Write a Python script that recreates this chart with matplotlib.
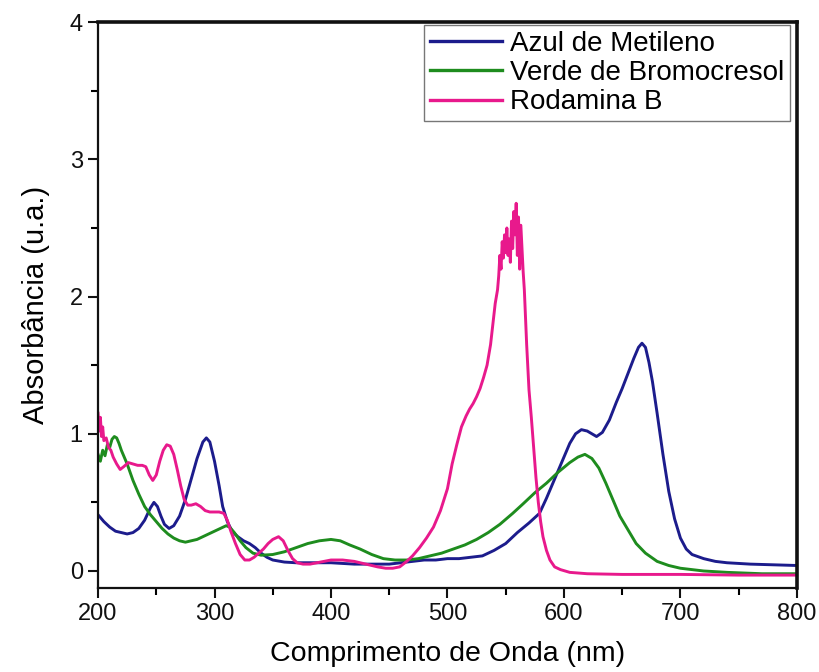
import matplotlib
matplotlib.use("Agg")
import matplotlib.pyplot as plt
from matplotlib.ticker import MultipleLocator

plt.rcParams['font.family'] = ['Liberation Sans', 'DejaVu Sans']

# Azul de Metileno
mb_x = [200, 205, 210, 215, 220, 225, 230, 235, 240, 245, 248, 251, 254, 257, 261, 265, 270, 275,
        280, 285, 290, 293, 296, 300, 304, 307, 311, 315, 320, 325, 330, 335, 340, 345, 350, 360,
        370, 380, 390, 400, 410, 420, 430, 440, 450, 460, 470, 480, 490, 500, 510, 520, 530, 540,
        550, 555, 560, 570, 579, 585, 590, 595, 600, 605, 610, 615, 620, 624, 628, 633, 639, 645,
        650, 655, 660, 664, 667, 670, 673, 676, 680, 685, 690, 695, 700, 705, 710, 720, 730, 740,
        760, 780, 800]
mb_y = [0.41, 0.36, 0.32, 0.29, 0.28, 0.27, 0.28, 0.31, 0.37, 0.46, 0.50, 0.47, 0.40, 0.34, 0.31,
        0.33, 0.40, 0.52, 0.67, 0.82, 0.94, 0.97, 0.94, 0.80, 0.62, 0.47, 0.36, 0.29, 0.25, 0.22,
        0.20, 0.17, 0.13, 0.10, 0.08, 0.065, 0.06, 0.06, 0.06, 0.06, 0.055, 0.05, 0.05, 0.05, 0.05,
        0.06, 0.07, 0.08, 0.08, 0.09, 0.09, 0.10, 0.11, 0.15, 0.20, 0.24, 0.28, 0.35, 0.42, 0.53,
        0.63, 0.73, 0.83, 0.93, 1.00, 1.03, 1.02, 1.00, 0.98, 1.01, 1.10, 1.23, 1.33, 1.44, 1.55,
        1.63, 1.66, 1.63, 1.52, 1.38, 1.15, 0.85, 0.58, 0.38, 0.24, 0.16, 0.12, 0.09, 0.07, 0.06,
        0.05, 0.045, 0.04]

# Verde de Bromocresol
vb_x = [200, 202, 204, 206, 208, 210, 212, 214, 216, 218, 220, 225, 230, 235, 240, 245, 250, 255,
        260, 265, 270, 275, 280, 285, 290, 295, 300, 305, 310, 313, 317, 322, 327, 333, 340, 350,
        360, 370, 380, 390, 400, 408, 416, 425, 435, 445, 455, 465, 475, 485, 495, 505, 515, 525,
        535, 545, 556, 565, 575, 585, 595, 605, 612, 618, 624, 630, 636, 642, 648, 655, 662, 670,
        680, 690, 700, 720, 740, 770, 800]
vb_y = [0.85, 0.80, 0.88, 0.84, 0.92, 0.90, 0.96, 0.98, 0.97, 0.93, 0.88, 0.78, 0.66, 0.56, 0.47,
        0.41, 0.36, 0.31, 0.27, 0.24, 0.22, 0.21, 0.22, 0.23, 0.25, 0.27, 0.29, 0.31, 0.33, 0.32,
        0.28, 0.22, 0.17, 0.13, 0.115, 0.12, 0.14, 0.17, 0.20, 0.22, 0.23, 0.22, 0.19, 0.16, 0.12,
        0.09, 0.08, 0.08, 0.09, 0.11, 0.13, 0.16, 0.19, 0.23, 0.28, 0.34, 0.42, 0.49, 0.57, 0.64,
        0.72, 0.79, 0.83, 0.85, 0.82, 0.75, 0.64, 0.52, 0.40, 0.30, 0.20, 0.13, 0.07, 0.04, 0.02,
        0.00, -0.01, -0.02, -0.02]

# Rodamina B
rb_x = [200, 201, 202, 203, 204, 205, 207, 209, 211, 213, 216, 219, 222, 226, 230, 234, 238, 241,
        244, 247, 250, 253, 256, 259, 262, 265, 268, 271, 274, 277, 280, 284, 288, 292, 296, 300,
        304, 308, 311, 314, 318, 322, 326, 330, 334, 338, 342, 346, 350, 355, 359, 363, 367, 371,
        376, 382, 388, 394, 400, 410, 420, 430, 440, 447, 453, 459, 465, 470, 476, 482, 488, 494,
        500, 504, 508, 512, 516, 519, 522, 525, 528, 531, 534, 537, 539, 541, 543, 544, 545, 546,
        547, 548, 549, 550, 551, 552, 553, 554, 555, 556, 557, 558, 559, 560, 561, 562, 563, 564,
        565, 566, 567, 568, 569, 570, 572, 574, 576, 578, 580, 582, 585, 588, 592, 597, 605, 620,
        650, 700, 750, 800]
rb_y = [1.15, 1.02, 1.12, 0.98, 1.05, 0.95, 0.97, 0.90, 0.88, 0.83, 0.78, 0.74, 0.76, 0.79, 0.78,
        0.77, 0.77, 0.76, 0.70, 0.66, 0.70, 0.80, 0.88, 0.92, 0.91, 0.85, 0.74, 0.62, 0.52, 0.48,
        0.48, 0.49, 0.47, 0.44, 0.43, 0.43, 0.43, 0.42, 0.37, 0.29, 0.20, 0.12, 0.08, 0.08, 0.10,
        0.13, 0.16, 0.20, 0.23, 0.25, 0.22, 0.15, 0.09, 0.06, 0.05, 0.05, 0.06, 0.07, 0.08, 0.08,
        0.07, 0.05, 0.03, 0.02, 0.02, 0.03, 0.07, 0.11, 0.17, 0.24, 0.32, 0.44, 0.60, 0.78, 0.92,
        1.05, 1.13, 1.18, 1.22, 1.27, 1.33, 1.41, 1.50, 1.65, 1.80, 1.95, 2.05, 2.15, 2.30, 2.20,
        2.40, 2.28, 2.45, 2.32, 2.50, 2.30, 2.42, 2.25, 2.55, 2.35, 2.62, 2.45, 2.68, 2.30, 2.58,
        2.20, 2.52, 2.35, 2.18, 2.05, 1.85, 1.65, 1.48, 1.32, 1.12, 0.90, 0.68, 0.50, 0.36, 0.25,
        0.15, 0.08, 0.03, 0.01, -0.01, -0.02, -0.025, -0.025, -0.03, -0.03]

labels = ["Azul de Metileno", "Verde de Bromocresol", "Rodamina B"]
colors = ["#1c1c8c", "#1e8c1e", "#e8198c"]

fig = plt.figure(figsize=(8.19, 6.72), dpi=100)
ax = fig.add_axes([0.1197, 0.125, 0.973 - 0.1197, 0.967 - 0.125])

for xs, ys, lab, c in zip([mb_x, vb_x, rb_x], [mb_y, vb_y, rb_y], labels, colors):
    ax.plot(xs, ys, color=c, lw=2.1, label=lab)

ax.set_xlim(200, 800)
ax.set_ylim(-0.124, 4)
ax.xaxis.set_major_locator(MultipleLocator(100))
ax.xaxis.set_minor_locator(MultipleLocator(50))
ax.yaxis.set_major_locator(MultipleLocator(1))
ax.yaxis.set_minor_locator(MultipleLocator(0.5))
ax.tick_params(which='major', direction='out', length=7, width=1.5, labelsize=17,
               colors='#111111', pad=4)
ax.tick_params(which='minor', direction='out', length=5, width=1.5)
ax.tick_params(top=False, right=False, which='both')
for s in ax.spines.values():
    s.set_linewidth(1.6)
    s.set_color('#111111')
ax.spines['top'].set_linewidth(2.6)
ax.spines['right'].set_linewidth(2.6)

ax.set_xlabel("Comprimento de Onda (nm)", fontsize=20.5, labelpad=11)
ax.set_ylabel("Absorbância (u.a.)", fontsize=21, labelpad=14)

leg = ax.legend(loc='upper right', bbox_to_anchor=(0.99, 0.995), fontsize=20,
                frameon=True, fancybox=False, edgecolor='#555555', handlelength=2.6,
                handletextpad=0.3, labelspacing=0.12, borderpad=0.2, borderaxespad=0)
leg.get_frame().set_linewidth(1.0)
for line in leg.get_lines():
    line.set_linewidth(2.4)

fig.savefig("out.png", dpi=100)
